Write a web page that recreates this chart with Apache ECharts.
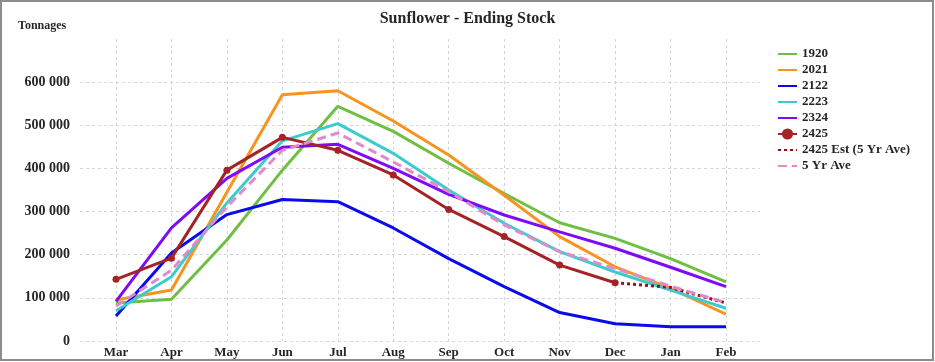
<!DOCTYPE html>
<html>
<head>
<meta charset="utf-8">
<script src="https://cdn.jsdelivr.net/npm/echarts@6/dist/echarts.min.js"></script>
<style>
html,body{margin:0;padding:0;background:#fff;}
#c{width:935px;height:362px;}
</style>
</head>
<body>
<div id="c"></div>
<script>
const months = ['Mar','Apr','May','Jun','Jul','Aug','Sep','Oct','Nov','Dec','Jan','Feb'];
const yTicks = [0, 100000, 200000, 300000, 400000, 500000, 600000];
const s1920 = [88000, 97000, 234000, 396000, 544000, 486000, 412000, 342000, 274000, 238000, 191000, 137000];
const s2021 = [95000, 118000, 345000, 571000, 580000, 510000, 431000, 338000, 242000, 172000, 122000, 62000];
const s2122 = [58000, 204000, 293000, 328000, 323000, 262000, 191000, 126000, 66000, 40000, 33000, 33000];
const s2223 = [70000, 149000, 320000, 464000, 504000, 435000, 350000, 273000, 207000, 160000, 118000, 76000];
const s2324 = [92000, 262000, 377000, 449000, 456000, 400000, 340000, 292000, 253000, 215000, 171000, 126000];
const s2425 = [143000, 192000, 396000, 472000, 442000, 385000, 305000, 242000, 176000, 135000, null, null];
const s2425est = [null, null, null, null, null, null, null, null, null, 135000, 124000, 88000];
const avg5 = [81000, 164000, 311000, 442000, 482000, 415000, 346000, 269000, 207000, 168000, 127000, 89000];
const legendNames = ['1920','2021','2122','2223','2324','2425','2425 Est (5 Yr Ave)','5 Yr Ave'];

const FONT = 'Liberation Serif';
const TXT = '#262626';
const GRID = '#d4d4d4';

function fmt(v){ return String(v).replace(/\B(?=(\d{3})+(?!\d))/g, ' '); }

const chart = echarts.init(document.getElementById('c'), null, {renderer:'canvas'});
function line(name, data, color, extra){
  return Object.assign({
    name, type:'line', data, xAxisIndex:0, yAxisIndex:0,
    symbol:'none', showSymbol:false,
    lineStyle:{color, width:3}, itemStyle:{color},
    connectNulls:false
  }, extra||{});
}
chart.setOption({
  animation:false,
  backgroundColor:'#fff',
  textStyle:{fontFamily:FONT},
  title:[
    {text:'Sunflower - Ending Stock', left:'center', top:6,
     textStyle:{fontFamily:FONT, fontSize:16, fontWeight:'bold', color:TXT}},
    {text:'Tonnages', left:13, top:15,
     textStyle:{fontFamily:FONT, fontSize:12, fontWeight:'bold', color:TXT}}
  ],
  graphic:[{type:'rect', shape:{x:1,y:1,width:932,height:359},
    style:{fill:'none', stroke:'#8c8c8c', lineWidth:2}, silent:true, z:100}],
  legend:{
    orient:'vertical', left:772, top:42, itemWidth:19, itemHeight:14, itemGap:2,
    textStyle:{fontFamily:FONT, fontSize:13, fontWeight:'bold', color:TXT, lineHeight:14},
    data: legendNames.map(n => n === '2425'
      ? {name:n, itemStyle:{opacity:1}}
      : {name:n, itemStyle:{opacity:0}})
  },
  grid:[
    {left:116, right:209, top:39, bottom:21},
    {left:80, right:175, top:82, bottom:21}
  ],
  xAxis:[
    {type:'category', gridIndex:0, data:months, boundaryGap:false,
     axisLine:{show:false}, axisTick:{show:false},
     axisLabel:{fontFamily:FONT, fontSize:13, fontWeight:'bold', color:TXT, margin:5},
     splitLine:{show:true, lineStyle:{color:GRID, type:[3,3], width:1}}},
    {type:'value', gridIndex:1, min:0, max:1, show:false}
  ],
  yAxis:[
    {type:'value', gridIndex:0, min:0, max:700000, show:false, splitLine:{show:false}},
    {type:'value', gridIndex:1, min:0, max:600000, interval:100000,
     axisLine:{show:false}, axisTick:{show:false},
     axisLabel:{fontFamily:FONT, fontSize:14, fontWeight:'bold', color:TXT, margin:10,
       formatter:v=> yTicks.includes(v) ? fmt(v) : ''},
     splitLine:{show:true, lineStyle:{color:GRID, type:[3,3], width:1}}}
  ],
  series:[
    line('1920', s1920, '#70BF44'),
    line('2021', s2021, '#F7941E'),
    line('2122', s2122, '#0A0AF0'),
    line('2223', s2223, '#3DCCCC'),
    line('2324', s2324, '#7F0AF5'),
    line('2425', s2425, '#A52325', {symbol:'circle', showSymbol:true, symbolSize:7}),
    line('2425 Est (5 Yr Ave)', s2425est, '#9B0F14', {lineStyle:{color:'#9B0F14', width:3, type:[3,3]}}),
    line('5 Yr Ave', avg5, '#E08ACD', {lineStyle:{color:'#E08ACD', width:3, type:[9,5]}})
  ]
});
</script>
</body>
</html>
